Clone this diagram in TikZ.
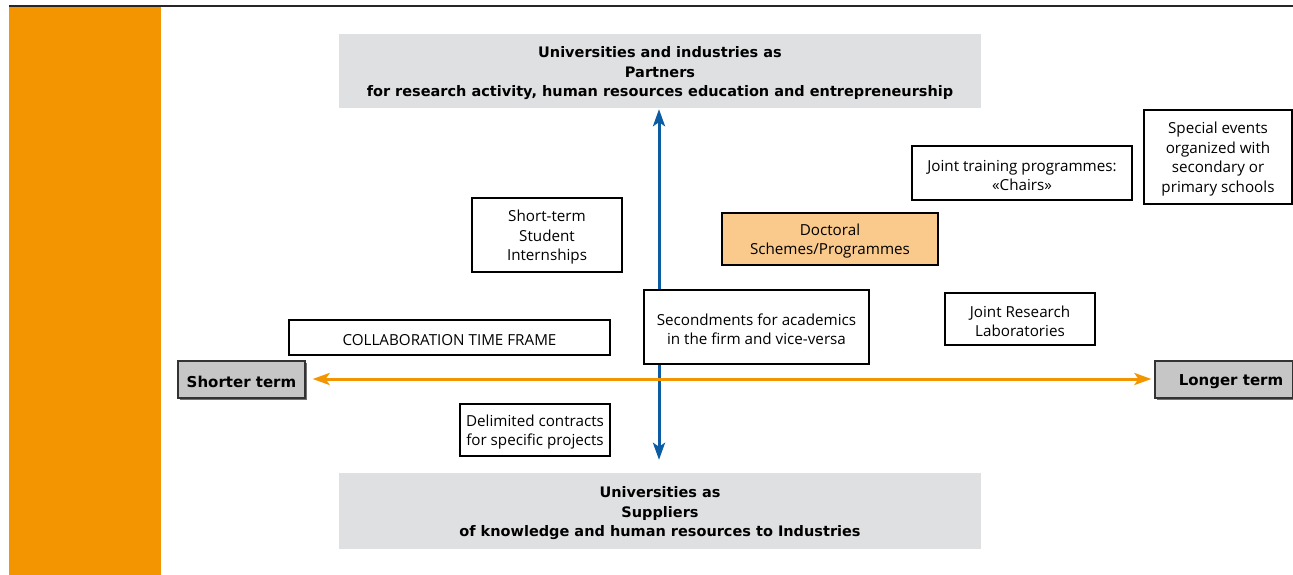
\documentclass[tikz,border=0pt]{standalone}
\usepackage{fontspec}
\setmainfont{Open Sans}
\newfontfamily\headfont{DejaVu Sans}
\usetikzlibrary{arrows.meta,positioning}
\definecolor{sideorange}{HTML}{F39500}
\definecolor{axisblue}{HTML}{0B5CA3}
\definecolor{headgray}{HTML}{DFE0E2}
\definecolor{termgray}{HTML}{C6C6C6}
\definecolor{docfill}{HTML}{F9CA8C}
\newcommand{\firstup}{\rule{0pt}{16pt}}
\tikzset{
  headbox/.style={fill=headgray, draw=none, inner sep=0pt, align=center,
    font=\headfont\bfseries\fontsize{14.5}{19.5}\selectfont},
  itembox/.style={draw=black, line width=1.2pt, fill=white, inner sep=0pt, align=center,
    font=\fontsize{15.2}{19.5}\selectfont},
  docbox/.style={itembox, fill=docfill, line width=2.6pt},
  termbox/.style={draw=black!80, line width=1.2pt, fill=termgray, inner sep=0pt,
    font=\headfont\bfseries\fontsize{15}{17}\selectfont},
  axisarrow/.style={line width=3pt, -{Stealth[length=17pt,width=12pt,inset=4pt]}},
}
\newcommand{\boxat}[7]{% name, style, x1, y1, x2, y2, text
  \node[#2, minimum width={#5-#3}, minimum height={#6-#4}] (#1) at ({(#3+#5)/2},{(#4+#6)/2}) {\firstup#7};}
\begin{document}
\begin{tikzpicture}[x=1pt,y=-1pt]
\useasboundingbox (0,0) rectangle (1293,575);
\fill[white] (0,0) rectangle (1293,575);
% top rule and sidebar
\draw[line width=1.2pt, black!85] (9,6) -- (1293,6);
\fill[sideorange] (9,7) rectangle (161,575);
% heading boxes
\boxat{top}{headbox}{339}{34}{981}{108}{Universities and industries as\\Partners\\for research activity, human resources education and entrepreneurship}
\boxat{bottom}{headbox}{339}{473}{981}{549}{Universities as\\Suppliers\\of knowledge and human resources to Industries}
% term boxes
\fill[black!55] (180,363) rectangle (307,400);
\boxat{shorter}{termbox}{178}{361}{305}{398}{Shorter term}
\fill[black!55] (1157,363) rectangle (1295,400);
\boxat{longer}{termbox}{1155}{361}{1293}{398}{\hspace*{14pt}Longer term}
% items
\boxat{intern}{itembox}{472}{198}{622}{272}{Short-term\\Student\\Internships}
\boxat{joint}{itembox}{912}{146}{1132}{200}{Joint training programmes:\\«Chairs»}
\boxat{special}{itembox}{1144}{110}{1292}{204}{Special events\\organized with\\secondary or\\primary schools}
\boxat{labs}{itembox}{945}{293}{1095}{345}{Joint Research\\Laboratories}
\boxat{ctf}{itembox}{289}{320}{610}{355}{COLLABORATION TIME FRAME}
\boxat{contracts}{itembox}{460}{404}{610}{456}{Delimited contracts\\for specific projects}
% axes
\coordinate (vc) at (659,379);
\coordinate (hc) at (659,379);
\draw[axisblue, axisarrow] (vc) -- ([yshift=-1pt]top.south -| vc);
\draw[axisblue, axisarrow] (vc) -- ([yshift=13pt]bottom.north -| vc);
\draw[sideorange, axisarrow] (hc) -- ([xshift=-3pt]longer.west |- hc);
\draw[sideorange, axisarrow] (hc) -- ([xshift=7pt]shorter.east |- hc);
% boxes over the axes
\boxat{second}{itembox}{644}{290}{869}{364}{Secondments for academics\\in the firm and vice-versa}
\boxat{doctoral}{docbox}{722}{213}{938}{265}{Doctoral\\Schemes/Programmes}
\end{tikzpicture}
\end{document}
